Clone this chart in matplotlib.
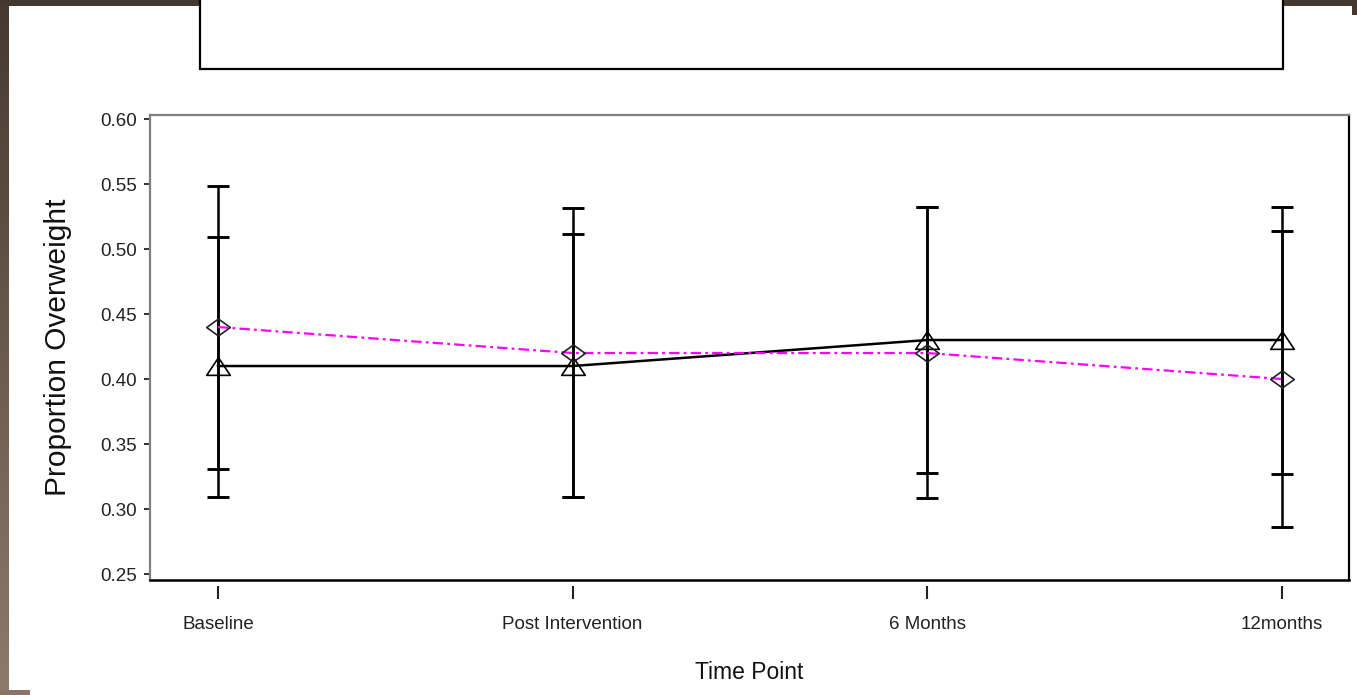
import numpy as np
import matplotlib
matplotlib.use("Agg")
import matplotlib.pyplot as plt
from matplotlib.patches import Rectangle
from matplotlib.path import Path

plt.rcParams['font.family'] = ['Liberation Sans', 'DejaVu Sans']
plt.rcParams['lines.scale_dashes'] = False

# data
time_points = ["Baseline", "Post Intervention", "6 Months", "12months"]

tri_mean = [0.41, 0.41, 0.43, 0.43]
tri_upper = [0.509, 0.5115, 0.5325, 0.5325]
tri_lower = [0.3095, 0.309, 0.3275, 0.3267]

dia_mean = [0.44, 0.42, 0.42, 0.40]
dia_upper = [0.5485, 0.5313, 0.5325, 0.514]
dia_lower = [0.3305, 0.309, 0.3082, 0.2864]

y_ticks = [0.25, 0.30, 0.35, 0.40, 0.45, 0.50, 0.55, 0.60]

W, H = 1357, 695
fig = plt.figure(figsize=(W / 100, H / 100), dpi=100)
fig.patch.set_facecolor("white")


def fx(px):
    return px / W


def fy(py):
    # pixel row from top -> figure fraction
    return 1 - py / H


# slide background bits (brown frame)
bg = fig.add_axes([0, 0, fx(9), 1])
top_c = np.array([0x45, 0x39, 0x30]) / 255
bot_c = np.array([0x8e, 0x7a, 0x6b]) / 255
grad = np.linspace(0, 1, 200)[:, None, None] * (bot_c - top_c) + top_c
bg.imshow(grad, aspect='auto', extent=[0, 1, 0, 1])
bg.axis('off')
fig.add_artist(Rectangle((0, fy(6)), fx(200), fy(0) - fy(6), transform=fig.transFigure,
                         facecolor='#43372e', edgecolor='none'))
fig.add_artist(Rectangle((fx(1283), fy(6)), 1 - fx(1283), fy(0) - fy(6), transform=fig.transFigure,
                         facecolor='#43372e', edgecolor='none'))
fig.add_artist(Rectangle((fx(1352), fy(15)), 1 - fx(1352), fy(0) - fy(15), transform=fig.transFigure,
                         facecolor='#43372e', edgecolor='none'))
fig.add_artist(Rectangle((0, 0), fx(30), fy(690), transform=fig.transFigure,
                         facecolor='#8a7566', edgecolor='none'))

# empty box at the top
fig.add_artist(Rectangle((fx(200), fy(69)), fx(1283) - fx(200), 0.2, transform=fig.transFigure,
                         facecolor='white', edgecolor='black', linewidth=1.6))

ax = fig.add_axes([fx(150), fy(580), fx(1349) - fx(150), fy(115) - fy(580)])
x = np.arange(len(time_points))

# marker shapes (wide triangle / wide diamond)
tri_marker = Path([(-1, -0.75), (0, 0.75), (1, -0.75), (-1, -0.75)], closed=True)
dia_marker = Path([(-1, 0), (0, 0.72), (1, 0), (0, -0.72), (-1, 0)], closed=True)

tri_err = [np.array(tri_mean) - np.array(tri_lower), np.array(tri_upper) - np.array(tri_mean)]
dia_err = [np.array(dia_mean) - np.array(dia_lower), np.array(dia_upper) - np.array(dia_mean)]

ax.errorbar(x, tri_mean, yerr=tri_err, fmt='none', ecolor='black', elinewidth=1.8,
            capsize=8, capthick=2.1, zorder=2)
ax.errorbar(x, dia_mean, yerr=dia_err, fmt='none', ecolor='black', elinewidth=1.8,
            capsize=8, capthick=2.1, zorder=2)

ax.plot(x, tri_mean, color='black', linewidth=1.8, zorder=3)
ax.plot(x, tri_mean, linestyle='none', marker=tri_marker, markersize=17,
        markerfacecolor='none', markeredgecolor='black', markeredgewidth=1.2, zorder=4)

ax.plot(x, dia_mean, color='#ff00ff', linewidth=1.6, dashes=(7.5, 3, 2, 3), zorder=3)
ax.plot(x, dia_mean, linestyle='none', marker=dia_marker, markersize=17,
        markerfacecolor='none', markeredgecolor='#222222', markeredgewidth=1.2, zorder=4)

ax.set_xlim(-0.1917, 3.189)
ax.set_ylim(0.2454, 0.6031)
ax.set_yticks(y_ticks)
ax.set_yticklabels(["%.2f" % v for v in y_ticks])
ax.set_xticks(x)
ax.set_xticklabels(time_points)

# frame
ax.spines['left'].set_color('#808080')
ax.spines['top'].set_color('#808080')
ax.spines['right'].set_color('black')
for s in ['left', 'top', 'right']:
    ax.spines[s].set_linewidth(1.6)
# x ticks sit a little below the frame
ax.spines['bottom'].set_position(('outward', 4.5))
ax.spines['bottom'].set_visible(False)
ax.plot([0, 1], [0, 0], transform=ax.transAxes, color='black', linewidth=1.8, clip_on=False, zorder=5)

ax.tick_params(axis='y', direction='out', length=4.5, width=1.3, pad=5,
               labelsize=13.5, labelcolor='#222222', color='#222222')
ax.tick_params(axis='x', direction='out', length=9.5, width=1.5, pad=12,
               labelsize=13.5, labelcolor='#222222', color='#222222')

ax.set_xlabel("Time Point", fontsize=16.5, color='#111111', labelpad=20)
ax.set_ylabel("Proportion Overweight", fontsize=21.5, color='#111111', labelpad=20)

fig.savefig("out.png", dpi=100)
